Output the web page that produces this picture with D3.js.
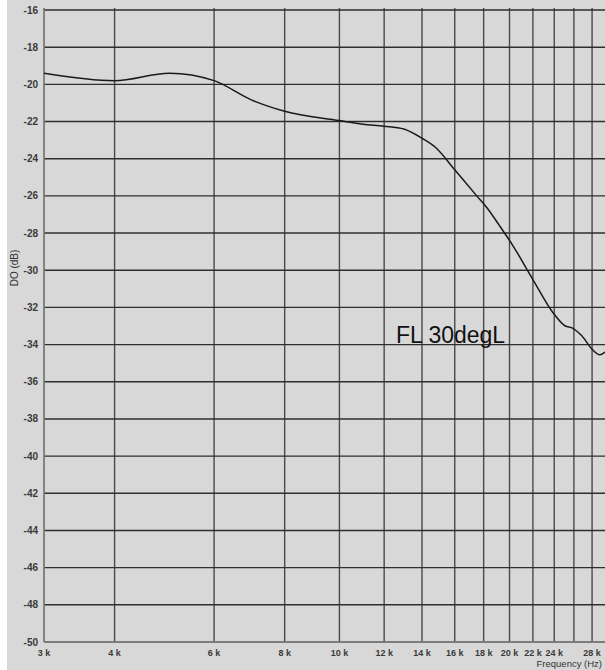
<!DOCTYPE html>
<html>
<head>
<meta charset="utf-8">
<script src="https://cdn.jsdelivr.net/npm/d3@7"></script>
<style>
  body { margin: 0; background: #fff; }
  svg { display: block; font-family: Arial, "Liberation Sans", sans-serif; }
</style>
</head>
<body>
<div id="my_dataviz"></div>
<script>
// response curve
const freqs  = [3000, 4000, 5000, 6000, 7000, 8000, 10000, 11000, 12000, 13000, 14000, 14800,
                16000, 17500, 18200, 19200, 20300, 22000, 23900, 25100, 25800, 26800, 28100, 28900, 29500];
const levels = [-19.4, -19.8, -19.4, -19.8, -20.85, -21.45, -21.95, -22.15, -22.25, -22.4, -22.9, -23.4,
                -24.6, -26.0, -26.6, -27.6, -28.7, -30.5, -32.3, -33.0, -33.1, -33.5, -34.3, -34.55, -34.4];

// grid + labels
const gridFreqs  = [3000, 4000, 6000, 8000, 10000, 12000, 14000, 16000, 18000, 20000, 22000, 24000, 26000, 28000];
const labelFreqs = [3000, 4000, 6000, 8000, 10000, 12000, 14000, 16000, 18000, 20000, 22000, 24000, 28000];
const yTicks     = d3.range(-50, -15, 2);
const curveLabel = "FL 30degL";

const W = 605, H = 670;
const margin = { top: 10, right: -4, bottom: 28, left: 44 };

const svg = d3.select("#my_dataviz")
  .append("svg")
    .attr("width", W)
    .attr("height", H);

// background
svg.append("rect")
  .attr("x", 7).attr("y", 0)
  .attr("width", W - 7).attr("height", H)
  .attr("fill", "#d8d8d8");

const x = d3.scaleLog()
  .domain([3000, 30000])
  .range([margin.left, W - margin.right]);

const y = d3.scaleLinear()
  .domain([-50, -16])
  .range([H - margin.bottom, margin.top]);

// vertical grid
svg.append("g")
  .selectAll("line")
  .data(gridFreqs)
  .join("line")
    .attr("x1", d => x(d)).attr("x2", d => x(d))
    .attr("y1", y(-16) - 2).attr("y2", y(-50))
    .attr("stroke", "#4a4a4a")
    .attr("stroke-width", 1.4);

// horizontal grid
svg.append("g")
  .selectAll("line")
  .data(yTicks)
  .join("line")
    .attr("x1", x(3000)).attr("x2", W)
    .attr("y1", d => y(d)).attr("y2", d => y(d))
    .attr("stroke", "#2e2e2e")
    .attr("stroke-width", 1.4);

// axes frame
svg.append("line")
  .attr("x1", x(3000)).attr("x2", x(3000))
  .attr("y1", y(-16) - 2).attr("y2", y(-50))
  .attr("stroke", "#888").attr("stroke-width", 1.5);
svg.append("line")
  .attr("x1", x(3000)).attr("x2", W)
  .attr("y1", y(-50)).attr("y2", y(-50))
  .attr("stroke", "#888").attr("stroke-width", 1.5);

// y tick labels
svg.append("g")
  .selectAll("text")
  .data(yTicks)
  .join("text")
    .attr("x", 38)
    .attr("y", d => y(d))
    .attr("dy", "0.35em")
    .attr("text-anchor", "end")
    .attr("font-size", 10)
    .attr("font-weight", "bold")
    .attr("fill", "#3a3a3a")
    .text(d => d);

// x tick labels
svg.append("g")
  .selectAll("text")
  .data(labelFreqs)
  .join("text")
    .attr("x", d => x(d))
    .attr("y", 656)
    .attr("text-anchor", "middle")
    .attr("font-size", 9)
    .attr("font-weight", "bold")
    .attr("fill", "#3a3a3a")
    .text(d => (d / 1000) + " k");

// axis titles
svg.append("text")
  .attr("x", 602).attr("y", 667)
  .attr("text-anchor", "end")
  .attr("font-size", 9.5)
  .attr("fill", "#333")
  .text("Frequency (Hz)");

svg.append("text")
  .attr("transform", "translate(18,268) rotate(-90)")
  .attr("text-anchor", "middle")
  .attr("font-size", 10)
  .attr("fill", "#333")
  .text("DO (dB)");

// curve
const data = freqs.map((f, i) => ({ f, v: levels[i] }));
const line = d3.line()
  .x(d => x(d.f))
  .y(d => y(d.v))
  .curve(d3.curveMonotoneX);

svg.append("path")
  .datum(data)
  .attr("fill", "none")
  .attr("stroke", "#1a1a1a")
  .attr("stroke-width", 1.5)
  .attr("d", line);

svg.append("text")
  .attr("x", 396)
  .attr("y", 343)
  .attr("font-size", 23)
  .attr("fill", "#111")
  .text(curveLabel);
</script>
</body>
</html>
